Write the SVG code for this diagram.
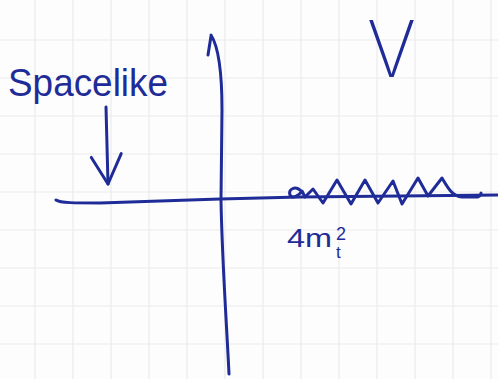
<svg xmlns="http://www.w3.org/2000/svg" width="498" height="379" viewBox="0 0 498 379">
  <style>
    .grid line { stroke: #ebebeb; stroke-width: 1.2; }
    .ink { fill: none; stroke: #1f2c98; stroke-width: 3; stroke-linecap: round; stroke-linejoin: round; }
    .lbl { fill: #1f2c98; font-family: "Liberation Sans", "DejaVu Sans", sans-serif; }
  </style>
  <defs>
    <marker id="openHead" markerUnits="userSpaceOnUse" orient="auto" refX="0" refY="0" markerWidth="40" markerHeight="40" overflow="visible">
      <path d="M -27,16 L 0,0 L -30,-14" fill="none" stroke="#1f2c98" stroke-width="3" stroke-linecap="round" stroke-linejoin="round"/>
    </marker>
  </defs>
  <rect width="498" height="379" fill="#fdfdfd"/>
  <g class="grid" id="grid">
    <line x1="35" y1="0" x2="35" y2="379"/>
    <line x1="73" y1="0" x2="73" y2="379"/>
    <line x1="111" y1="0" x2="111" y2="379"/>
    <line x1="149" y1="0" x2="149" y2="379"/>
    <line x1="187" y1="0" x2="187" y2="379"/>
    <line x1="225" y1="0" x2="225" y2="379"/>
    <line x1="263" y1="0" x2="263" y2="379"/>
    <line x1="301" y1="0" x2="301" y2="379"/>
    <line x1="339" y1="0" x2="339" y2="379"/>
    <line x1="377" y1="0" x2="377" y2="379"/>
    <line x1="415" y1="0" x2="415" y2="379"/>
    <line x1="453" y1="0" x2="453" y2="379"/>
    <line x1="491" y1="0" x2="491" y2="379"/>
    <line x1="0" y1="40" x2="498" y2="40"/>
    <line x1="0" y1="78" x2="498" y2="78"/>
    <line x1="0" y1="116" x2="498" y2="116"/>
    <line x1="0" y1="154" x2="498" y2="154"/>
    <line x1="0" y1="192" x2="498" y2="192"/>
    <line x1="0" y1="230" x2="498" y2="230"/>
    <line x1="0" y1="268" x2="498" y2="268"/>
    <line x1="0" y1="306" x2="498" y2="306"/>
    <line x1="0" y1="344" x2="498" y2="344"/>
  </g>
  <g id="axes">
    <path class="ink" d="M 56,200 C 60,203 75,203 100,203 L 220,199 L 300,197 L 498,195"/>
    <path class="ink" d="M 208,55 L 211,36 M 211,35 C 218,46 222,70 222,110 L 221,200 C 222,260 227,330 229,374"/>
  </g>
  <g id="branch-cut">
    <path class="ink" d="M 300,190 C 295,186 288,189 290,195 C 292,199 299,196 302,191 L 305,197 L 313,189 L 323,203 L 337,180 L 351,204 L 365,180 L 378,203 L 393,181 L 402,204 L 418,178 L 428,196 L 442,178 C 448,188 452,196 462,197 L 478,197 C 480,196 481,195 481,193"/>
  </g>
  <g id="label-spacelike">
    <text class="lbl" x="8" y="96" font-size="38" textLength="160" lengthAdjust="spacingAndGlyphs">Spacelike</text>
  </g>
  <g id="label-V">
    <text class="lbl" x="367" y="77" font-size="78" font-weight="250" textLength="49" lengthAdjust="spacingAndGlyphs" style="font-family: Inter, 'Liberation Sans', sans-serif">V</text>
  </g>
  <g id="label-threshold">
    <text class="lbl" x="287" y="247" font-size="25" textLength="45" lengthAdjust="spacingAndGlyphs">4m</text>
    <text class="lbl" x="336" y="258" font-size="17">t</text>
    <text class="lbl" x="336" y="240" font-size="18">2</text>
  </g>
  <g id="connectors">
    <path class="ink" d="M 106,107 L 108,184" marker-end="url(#openHead)"/>
  </g>
</svg>
